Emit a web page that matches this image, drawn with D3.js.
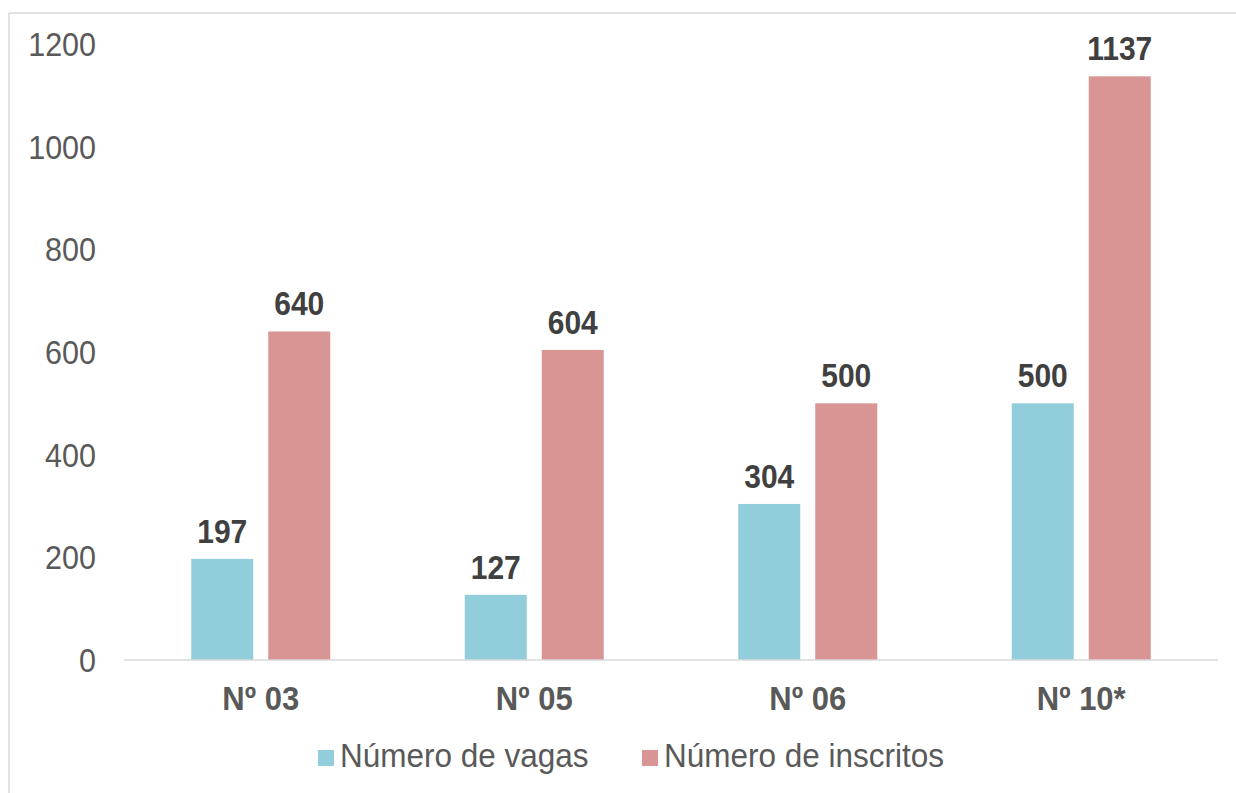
<!DOCTYPE html>
<html><head><meta charset="utf-8">
<script src="https://cdn.jsdelivr.net/npm/d3@7"></script>
<style>body{margin:0;background:#fff}svg{display:block}text{font-family:"Liberation Sans",Arial,sans-serif}</style>
</head><body>
<script>
const categories = ["Nº 03", "Nº 05", "Nº 06", "Nº 10*"];
const vagas = [197, 127, 304, 500];
const inscritos = [640, 604, 500, 1137];
const seriesNames = ["Número de vagas", "Número de inscritos"];
const seriesColors = ["#92CDDC", "#D99594"];
const yTicks = [0, 200, 400, 600, 800, 1000, 1200];

const W = 1236, H = 793;
const SY = 1.1;
const svg = d3.select("body").append("svg").attr("width", W).attr("height", H);

function txt(g, x, yy, s) {
  return g.append("text").attr("transform", `translate(${x},${yy}) scale(1,${s || SY})`);
}

// frame
svg.append("line").attr("x1", 9).attr("x2", W).attr("y1", 13).attr("y2", 13).attr("stroke", "#d9d9d9").attr("stroke-width", 1.5);
svg.append("line").attr("x1", 9).attr("x2", 9).attr("y1", 13).attr("y2", H).attr("stroke", "#d9d9d9").attr("stroke-width", 1.5);

const x0 = d3.scaleBand().domain(categories).range([124, 1218]);
const y = d3.scaleLinear().domain([0, 1200]).range([660, 44]);
const barW = 62, gap = 15;

const data = categories.map((c, i) => ({c, vals: [vagas[i], inscritos[i]]}));

// y tick labels
yTicks.forEach(d => {
  txt(svg, 96, y(d) + 12).attr("text-anchor", "end").attr("font-size", 30.5)
    .attr("fill", "#595959").text(d);
});

// bars
data.forEach(d => {
  const cx = x0(d.c) + x0.bandwidth() / 2;
  d.vals.forEach((v, s) => {
    const bx = s === 0 ? cx - gap / 2 - barW : cx + gap / 2;
    svg.append("rect").attr("x", bx).attr("y", y(v)).attr("width", barW)
      .attr("height", y(0) - y(v)).attr("fill", seriesColors[s]);
    txt(svg, bx + barW / 2, y(v) - 16)
      .attr("text-anchor", "middle").attr("font-size", 30).attr("font-weight", "bold")
      .attr("fill", "#404040").text(v);
  });
});

// baseline
svg.append("line").attr("x1", 124).attr("x2", 1218).attr("y1", y(0)).attr("y2", y(0)).attr("stroke", "#d9d9d9").attr("stroke-width", 1.5);

// category labels
categories.forEach(c => {
  txt(svg, x0(c) + x0.bandwidth() / 2, 710)
    .attr("text-anchor", "middle").attr("font-size", 31).attr("font-weight", "bold")
    .attr("fill", "#595959").text(c);
});

// legend
const legX = [318, 642];
seriesNames.forEach((n, i) => {
  svg.append("rect").attr("x", legX[i]).attr("y", 750).attr("width", 16).attr("height", 16).attr("fill", seriesColors[i]);
  txt(svg, legX[i] + 22, 767, 1.07).attr("font-size", 31.5).attr("fill", "#595959").text(n);
});
</script>
</body></html>
